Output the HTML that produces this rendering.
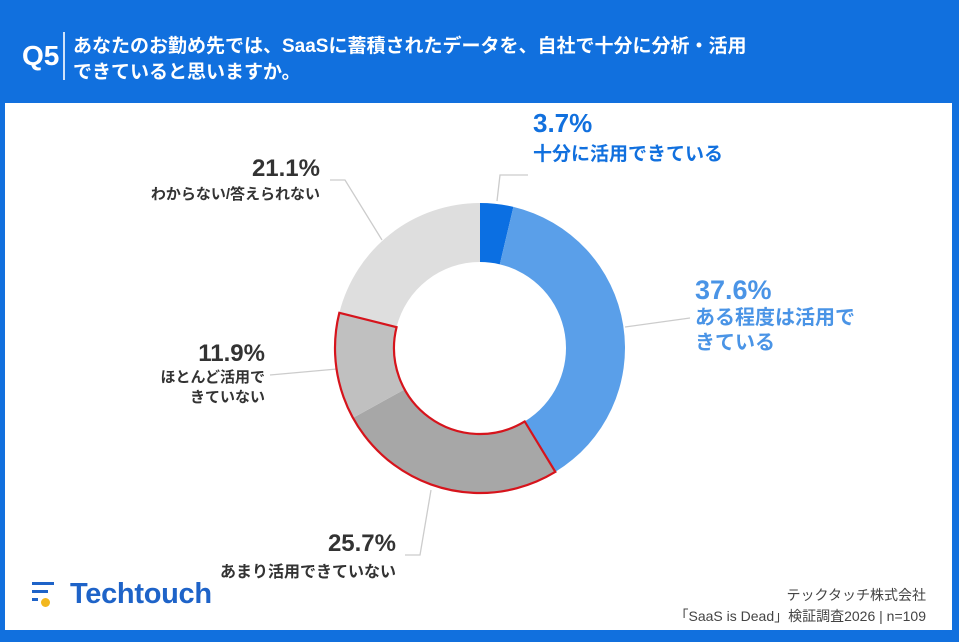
<!DOCTYPE html>
<html><head><meta charset="utf-8"><style>
body{margin:0;width:959px;height:642px;background:#1170de;font-family:"Liberation Sans","Noto Sans CJK JP",sans-serif;position:relative;overflow:hidden}
.card{position:absolute;left:5px;top:103px;width:947px;height:527px;background:#fff}
.t{position:absolute;font-weight:bold;white-space:nowrap}
</style></head><body>
<div class="t" style="left:22px;top:40px;font-size:28px;color:#fff">Q5</div>
<div style="position:absolute;left:63px;top:32px;width:2px;height:48px;background:#fff;opacity:.8"></div>
<div class="t" style="left:73px;top:34px;font-size:19px;line-height:26px;color:#fff">あなたのお勤め先では、SaaSに蓄積されたデータを、自社で十分に分析・活用<br>できていると思いますか。</div>
<div class="card"></div>
<svg id="chart" width="959" height="642" style="position:absolute;left:0;top:0"></svg>
<div class="t" style="left:533px;top:108px;color:#1170de"><div style="font-size:26px">3.7%</div><div style="font-size:19px">十分に活用できている</div></div>
<div class="t" style="left:695px;top:275px;color:#4a94e6"><div style="font-size:27px">37.6%</div><div style="font-size:20px;line-height:25px">ある程度は活用で<br>きている</div></div>
<div class="t" style="left:200px;top:530px;width:196px;text-align:right;color:#333"><div style="font-size:24px">25.7%</div><div style="font-size:16px">あまり活用できていない</div></div>
<div class="t" style="left:120px;top:340px;width:145px;text-align:right;color:#333"><div style="font-size:24px">11.9%</div><div style="font-size:15px;line-height:20px">ほとんど活用で<br>きていない</div></div>
<div class="t" style="left:100px;top:155px;width:220px;text-align:right;color:#333"><div style="font-size:24px">21.1%</div><div style="font-size:15px">わからない/答えられない</div></div>
<div style="position:absolute;left:32px;top:582px">
<div style="position:absolute;left:0;top:0;width:22px;height:3px;background:#1e63c8"></div>
<div style="position:absolute;left:0;top:8px;width:16px;height:3px;background:#1e63c8"></div>
<div style="position:absolute;left:0;top:16px;width:6px;height:3px;background:#1e63c8"></div>
<div style="position:absolute;left:9px;top:16px;width:9px;height:9px;border-radius:50%;background:#f2b71e"></div>
<div class="t" style="left:38px;top:-4px;font-size:29px;color:#1e63c8;letter-spacing:-0.3px">Techtouch</div></div>
<div class="t" style="right:33px;top:585px;text-align:right;font-size:14px;font-weight:normal;color:#444;line-height:21px">テックタッチ株式会社<br>「SaaS is Dead」検証調査2026 | n=109</div>
<script>
const categories=["十分に活用できている","ある程度は活用できている","あまり活用できていない","ほとんど活用できていない","わからない/答えられない"];
const values=[3.7,37.6,25.7,11.9,21.1];
const colors=["#0b6fe2","#5a9fe9","#a7a7a7","#c0c0c0","#dedede"];
const svg=document.getElementById('chart');const NS='http://www.w3.org/2000/svg';
const cx=480,cy=348,R=145,r=86;
const total=values.reduce((a,b)=>a+b,0);
function pt(f,rad){const a=f*2*Math.PI;return [cx+rad*Math.sin(a),cy-rad*Math.cos(a)];}
function arc(f0,f1){const l=(f1-f0)>0.5?1:0;const a=pt(f0,R),b=pt(f1,R),c=pt(f1,r),d=pt(f0,r);
return `M${a[0]},${a[1]}A${R},${R} 0 ${l} 1 ${b[0]},${b[1]}L${c[0]},${c[1]}A${r},${r} 0 ${l} 0 ${d[0]},${d[1]}Z`;}
const lines=[[[497,201],[500,175],[528,175]],[[625,327],[690,318]],[[431,490],[420,555],[405,555]],[[337,369],[270,375]],[[382,240],[345,180],[330,180]]];
lines.forEach((p,i)=>{const pl=document.createElementNS(NS,'polyline');pl.setAttribute('points',p.map(q=>q.join(',')).join(' '));pl.setAttribute('fill','none');pl.setAttribute('stroke','#ccc');pl.setAttribute('stroke-width','1.3');


svg.appendChild(pl);});
let acc=0;const starts=[];
values.forEach((v,i)=>{const f0=acc/total;acc+=v;const f1=acc/total;starts.push([f0,f1]);
const p=document.createElementNS(NS,'path');p.setAttribute('d',arc(f0,f1));p.setAttribute('fill',colors[i]);


svg.appendChild(p);});
const hl=document.createElementNS(NS,'path');hl.setAttribute('d',arc(starts[2][0],starts[3][1]));hl.setAttribute('fill','none');hl.setAttribute('stroke','#d6141c');hl.setAttribute('stroke-width','2.2');


svg.appendChild(hl);
</script>
</body></html>
